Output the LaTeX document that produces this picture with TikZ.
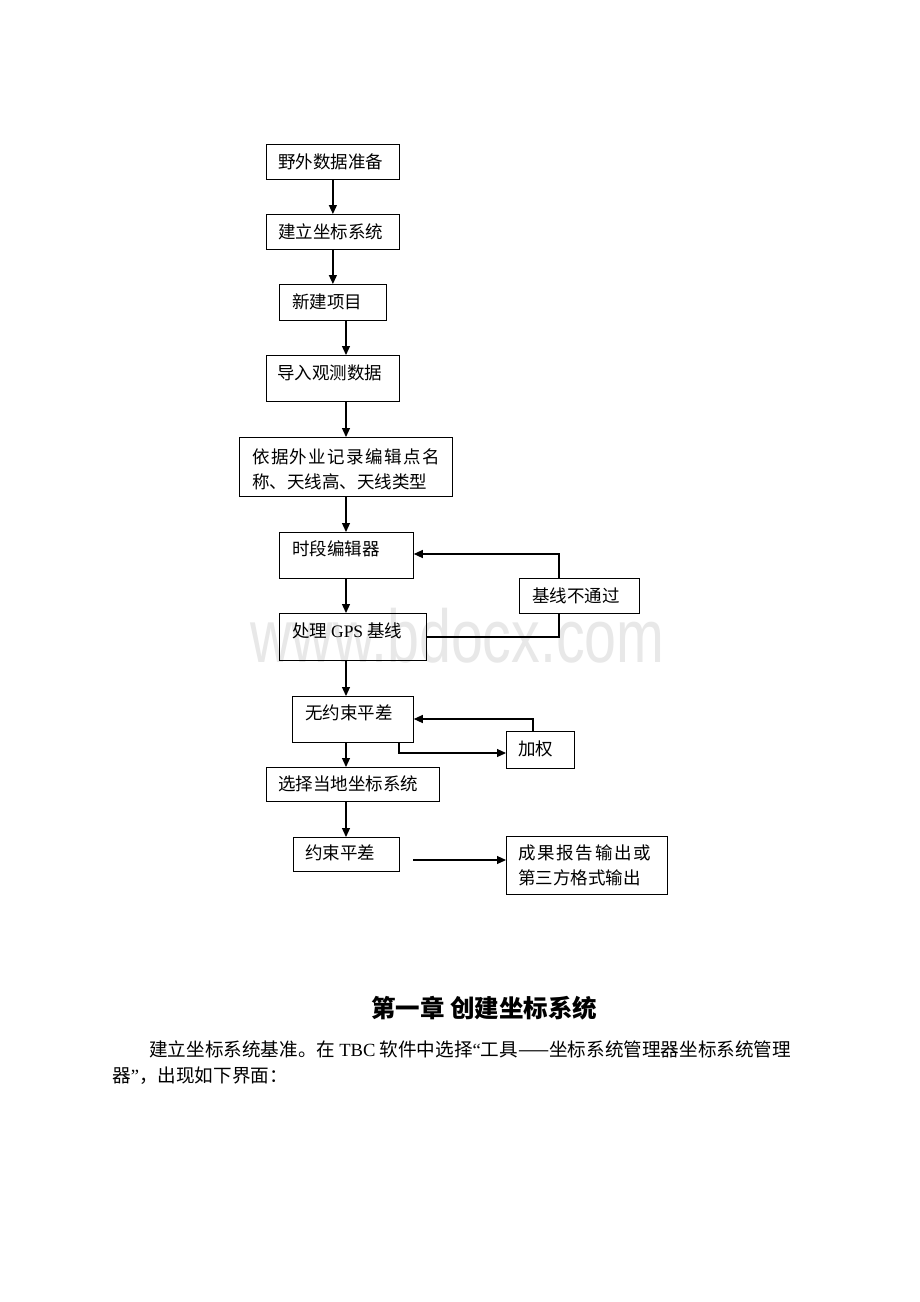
\documentclass[tikz,border=0pt]{standalone}
\usepackage{fontspec}
\setmainfont{Noto Sans CJK SC}
\newfontfamily\tnr{Liberation Serif}
\newfontfamily\wmfont{Liberation Sans}
\usetikzlibrary{arrows.meta,calc}
\tikzset{
  box/.style={draw, line width=0.8pt, inner sep=0pt, anchor=north west},
  txt/.style={inner sep=0pt, anchor=west, font=\fontsize{17.5}{25}\selectfont, align=left},
  arr/.style={line width=1.2pt, -{Triangle[length=9pt,width=8pt]}},
  ln/.style={line width=1.2pt},
}
\begin{document}
\begin{tikzpicture}[x=1pt,y=-1pt]
\useasboundingbox[fill=white] (0,0) rectangle (920,1302);
% watermark
\node[anchor=base west, inner sep=0pt, text=black!9, xscale=0.765, font=\wmfont\fontsize{75}{75}\selectfont] (wm) at (250,662) {www.bdocx.com};
% boxes
\node[box, minimum width=133pt, minimum height=35pt] (b1) at (266,144) {};
\node[box, minimum width=133pt, minimum height=35pt] (b2) at (266,214) {};
\node[box, minimum width=107pt, minimum height=36pt] (b3) at (279,284) {};
\node[box, minimum width=133pt, minimum height=46pt] (b4) at (266,355) {};
\node[box, minimum width=213pt, minimum height=59pt] (b5) at (239,437) {};
\node[box, minimum width=134pt, minimum height=46pt] (b6) at (279,532) {};
\node[box, minimum width=120pt, minimum height=35pt] (bx) at (519,578) {};
\node[box, minimum width=147pt, minimum height=47pt] (b7) at (279,613) {};
\node[box, minimum width=121pt, minimum height=46pt] (b8) at (292,696) {};
\node[box, minimum width=68pt, minimum height=37pt] (bw) at (506,731) {};
\node[box, minimum width=173pt, minimum height=34pt] (b9) at (266,767) {};
\node[box, minimum width=106pt, minimum height=34pt] (b10) at (293,837) {};
\node[box, minimum width=161pt, minimum height=58pt] (b11) at (506,836) {};
% texts
\node[txt] (t1) at (278,162) {野外数据准备};
\node[txt] (t2) at (278,232) {建立坐标系统};
\node[txt] (t3) at (292,302) {新建项目};
\node[txt] (t4) at (277,373) {导入观测数据};
\node[txt] (t5) at (252,469.5) {{\addfontfeature{LetterSpace=8}依据外业记录编辑点名}\\称、天线高、天线类型};
\node[txt] (t6) at (292,549) {时段编辑器};
\node[txt] (tx) at (532,596) {基线不通过};
\node[txt] (t7) at (292,631) {处理 {\tnr GPS} 基线};
\node[txt] (t8) at (305,713) {无约束平差};
\node[txt] (tw) at (518,749) {加权};
\node[txt] (t9) at (278,784) {选择当地坐标系统};
\node[txt] (t10) at (305,853) {约束平差};
\node[txt] (t11) at (518,865.5) {{\addfontfeature{LetterSpace=10}成果报告输出或}\\第三方格式输出};
% connectors
\coordinate (m) at (346,0);
\draw[arr] (b1) -- (b2);
\draw[arr] (b2) -- (b3);
\draw[arr] (b3.south -| m) -- (b4.north -| m);
\draw[arr] (b4.south -| m) -- (b5.north -| m);
\draw[arr] (b5.south -| m) -- (b6.north -| m);
\draw[arr] (b6.south -| m) -- (b7.north -| m);
\draw[arr] (b7.south -| m) -- (b8.north -| m);
\draw[arr] (b8.south -| m) -- (b9.north -| m);
\draw[arr] (b9.south -| m) -- (b10.north -| m);
\coordinate (f1) at (559,554);
\draw[arr] (bx.north -| f1) -- (f1) -- (f1 -| b6.east);
\coordinate (f2) at (559,637);
\draw[ln] (bx.south -| f2) -- (f2) -- (f2 -| b7.east);
\coordinate (f3) at (533,719);
\draw[arr] (bw.north -| f3) -- (f3) -- (f3 -| b8.east);
\coordinate (f4) at (399,753);
\draw[arr] (b8.south -| f4) -- (f4) -- (f4 -| bw.west);
\coordinate (c10) at (413,860);
\draw[arr] (c10) -- (c10 -| b11.west);
% heading and body
\node[inner sep=0pt, anchor=west, font=\fontsize{24.5}{28}\selectfont\bfseries] (title) at (371,1008) {第一章 创建坐标系统};
\node[inner sep=0pt, anchor=west, font=\fontsize{18.6}{26}\selectfont] (p1) at (149,1049) {建立坐标系统基准。在 {\tnr TBC} 软件中选择{\tnr “}工具——坐标系统管理器坐标系统管理};
\node[inner sep=0pt, anchor=west, font=\fontsize{18.6}{26}\selectfont] (p2) at (112,1076) {器{\tnr ”}，出现如下界面：};
\end{tikzpicture}
\end{document}
